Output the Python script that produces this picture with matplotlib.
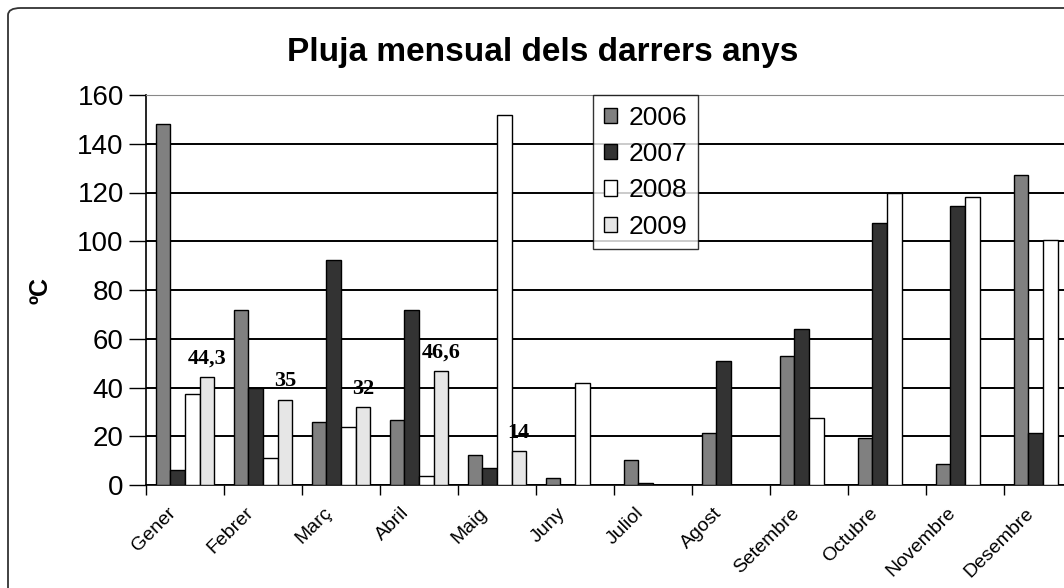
import numpy as np
import matplotlib
matplotlib.use("Agg")
import matplotlib.pyplot as plt
from matplotlib.patches import FancyBboxPatch

months = ["Gener", "Febrer", "Març", "Abril", "Maig", "Juny", "Juliol",
          "Agost", "Setembre", "Octubre", "Novembre", "Desembre"]
years = ["2006", "2007", "2008", "2009"]
v2006 = [148, 72, 26, 26.7, 12.3, 2.7, 10.3, 21.2, 53, 19.1, 8.6, 127]
v2007 = [6, 40, 92.3, 72, 6.8, 0, 0.8, 51, 64, 107.6, 114.5, 21.2]
v2008 = [37.3, 11, 24, 3.7, 152, 42, 0, 0, 27.3, 120, 118, 100.5]
v2009 = [44.3, 35, 32, 46.6, 14, np.nan, np.nan, np.nan, np.nan, np.nan, np.nan, np.nan]
labels2009 = ["44,3", "35", "32", "46,6", "14"]
yticks = [0, 20, 40, 60, 80, 100, 120, 140, 160]

colors = ["#808080", "#333333", "#ffffff", "#e6e6e6"]

plt.rcParams['font.family'] = ['Liberation Sans', 'DejaVu Sans']
fig = plt.figure(figsize=(10.64, 5.88), dpi=100)
ax = fig.add_axes([146/1064, 1-485/588, 936/1064, 390/588])

# outer rounded frame
frame = FancyBboxPatch((8/1064, -0.2), 1.2, (1-8/588) + 0.2,
                       boxstyle="round,pad=0,rounding_size=0.012",
                       transform=fig.transFigure, fill=False,
                       edgecolor="#333333", linewidth=1.3, zorder=0)
fig.patches.append(frame)

x = np.arange(len(months))
w = 0.186
series = [v2006, v2007, v2008, v2009]
for i, (vals, c, lab) in enumerate(zip(series, colors, years)):
    ax.bar(x + (i - 1.5) * w, vals, width=w, color=c, edgecolor="black",
           linewidth=1.0, label=lab, zorder=3)

for j, t in enumerate(labels2009):
    ax.annotate(t, (x[j] + 1.5 * w, v2009[j]), xytext=(0, 6),
                textcoords="offset points", ha="center", va="bottom",
                fontfamily="Liberation Serif", fontweight="bold", fontsize=16,
                zorder=4)

ax.set_xlim(-0.5, len(months) - 0.5)
ax.set_ylim(0, 160)
ax.set_yticks(yticks)
ax.set_yticklabels([str(t) for t in yticks], fontsize=20)
ax.yaxis.grid(True, color="black", linewidth=1.4, zorder=0)
ax.set_axisbelow(True)

# category boundary ticks
ax.set_xticks(np.arange(len(months) + 1) - 0.5)
ax.set_xticklabels([])
ax.tick_params(axis="x", which="major", length=7, direction="out", width=1)
ax.tick_params(axis="y", length=12, width=1, direction="out", pad=4)

# month labels, rotated, ending just left of each category centre
for xi, m in zip(x, months):
    ax.annotate(m, xy=(xi, 0), xycoords=("data", "axes fraction"),
                xytext=(-13, -14), textcoords="offset points",
                rotation=45, rotation_mode="anchor", ha="right", va="top",
                fontsize=14, annotation_clip=False)

ax.spines["right"].set_visible(False)
ax.spines["top"].set_color("#888888")
ax.spines["left"].set_linewidth(1.2)
ax.spines["bottom"].set_linewidth(1.2)

ax.set_ylabel("ºC", fontsize=18, fontweight="bold", labelpad=18)
fig.text(543/1064, 1-52/588, "Pluja mensual dels darrers anys",
         ha="center", va="center", fontsize=24, fontweight="bold")

leg = ax.legend(loc="upper left", bbox_to_anchor=((593-146)/936, 1.0),
                borderaxespad=0, fontsize=19, frameon=True, fancybox=False,
                handlelength=0.5, handleheight=0.5, handletextpad=0.45,
                labelspacing=0.47, borderpad=0.4)
leg.get_frame().set_edgecolor("black")
leg.get_frame().set_linewidth(1.0)

fig.savefig("out.png", dpi=100)
